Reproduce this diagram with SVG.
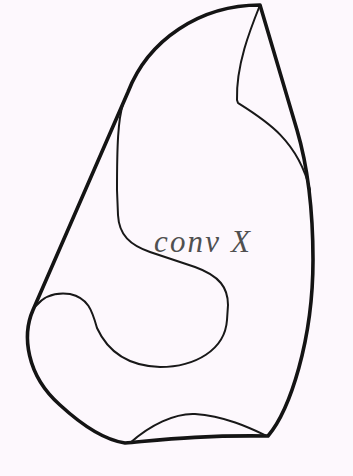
<svg xmlns="http://www.w3.org/2000/svg" width="353" height="476" viewBox="0 0 353 476">
<style>
.thick{fill:none;stroke:#141414;stroke-width:3.6;stroke-linejoin:round;stroke-linecap:round}
.thin{fill:none;stroke:#181818;stroke-width:2;stroke-linejoin:round;stroke-linecap:round}
.lbl{font-family:"Liberation Serif","Times New Roman",serif;font-style:italic;font-size:31px;fill:#505050}
</style>
<rect width="353" height="476" fill="#fdf8fd"/>
<g id="outline">
<path class="thick" d="M260,5 C200,5 148,40 128,92 L33,310 C22,335 26,375 60,405 C85,428 105,440 125,443 C160,440 200,435 268,436 C290,410 313,340 313,260 C313,205 307,164 297,130 Z"/>
</g>
<g id="inner-curves">
<path class="thin" d="M260,5 C250,30 236,65 237,100 L238,103 C265,120 298,140 310,190"/>
<path class="thin" d="M123,104 C118,120 117,145 117,190 L118,215 C119,235 130,245 150,252 L195,267 C220,276 228,288 228,305 L227,320 C225,350 195,367 160,367 C128,366 108,352 97,328 C92,310 88,298 70,294 C55,292 44,296 36,306"/>
<path class="thin" d="M130,443 C150,425 175,413 195,414 C225,416 250,428 267,436"/>
</g>
<g id="label">
<text class="lbl" x="154" y="252" textLength="96" lengthAdjust="spacing">conv X</text>
</g>
</svg>
